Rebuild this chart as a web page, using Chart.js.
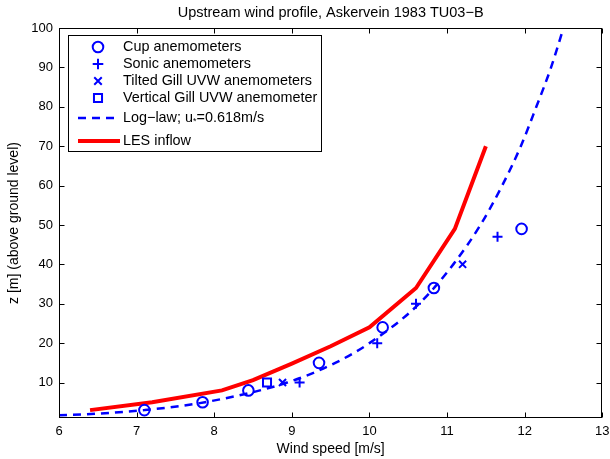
<!DOCTYPE html>
<html>
<head>
<meta charset="utf-8">
<title>Upstream wind profile</title>
<script src="https://cdn.jsdelivr.net/npm/chart.js@4/dist/chart.umd.min.js"></script>
<style>
  html, body { margin: 0; padding: 0; background: #fff; }
  canvas { display: block; }
</style>
</head>
<body>
<canvas id="profile" width="610" height="459"></canvas>
<script>
// Measured profile, Askervein 1983 run TU03-B (speed in m/s, height in m)
const cupSpeed = [7.1, 7.85, 8.44, 9.35, 10.17, 10.83, 11.96];
const cupHeight = [3, 5, 8, 15, 24, 34, 49];
const sonicSpeed = [9.1, 10.1, 10.6, 11.65];
const sonicHeight = [10, 20, 30, 47];
const tiltedSpeed = [8.88, 11.2];
const tiltedHeight = [10, 40];
const verticalSpeed = [8.68];
const verticalHeight = [10];
const logLawSpeed = [6.0, 6.5, 7.1, 7.88, 8.94, 9.56, 10.0, 10.64, 11.08, 11.43, 11.71, 11.95, 12.15, 12.34, 12.5];
const logLawHeight = [1.7, 2.1, 3, 5, 10, 15, 20, 30, 40, 50, 60, 70, 80, 90, 100];
const lesSpeed = [6.4, 7.2, 8.1, 8.5, 9.0, 9.5, 10.0, 10.6, 11.1, 11.5];
const lesHeight = [3, 5, 8, 10.6, 14.8, 19.2, 24, 34, 49, 70];
const xTicks = [6, 7, 8, 9, 10, 11, 12, 13];
const yTicks = [10, 20, 30, 40, 50, 60, 70, 80, 90, 100];

const BLUE = '#0000ff';
const RED = '#ff0000';
const FONT = 'Liberation Sans, Arial, Helvetica, sans-serif';

const pts = (xs, ys) => xs.map((x, i) => ({ x: x, y: ys[i] }));

const legendItems = [
  { type: 'marker', style: 'circle', text: 'Cup anemometers' },
  { type: 'marker', style: 'cross', text: 'Sonic anemometers' },
  { type: 'marker', style: 'crossRot', text: 'Tilted Gill UVW anemometers' },
  { type: 'marker', style: 'rect', text: 'Vertical Gill UVW anemometer' },
  { type: 'dash', text: ['Log\u2212law; u', '*', '=0.618m/s'] },
  { type: 'solid', text: 'LES inflow' }
];
const legendRowY = [47, 64, 81, 98, 118, 141];

// MATLAB-style box: full frame with ticks pointing inward, plus the legend box
const frameAndLegend = {
  id: 'frameAndLegend',
  afterDraw(chart) {
    const { ctx, chartArea: a, scales } = chart;
    ctx.save();
    ctx.strokeStyle = '#000';
    ctx.lineWidth = 1;
    const L = Math.round(a.left) + 0.5, R = Math.round(a.right) - 0.5;
    const T = Math.round(a.top) + 0.5, B = Math.round(a.bottom) - 0.5;
    ctx.strokeRect(L, T, R - L, B - T);
    ctx.beginPath();
    xTicks.forEach(v => {
      const px = Math.round(scales.x.getPixelForValue(v)) + 0.5;
      ctx.moveTo(px, B); ctx.lineTo(px, B - 5);
      ctx.moveTo(px, T); ctx.lineTo(px, T + 5);
    });
    yTicks.forEach(v => {
      const py = Math.round(scales.y.getPixelForValue(v)) + 0.5;
      ctx.moveTo(L, py); ctx.lineTo(L + 5, py);
      ctx.moveTo(R, py); ctx.lineTo(R - 5, py);
    });
    ctx.stroke();

    // legend
    const bx = 68.5, by = 35.5, bw = 253, bh = 116;
    ctx.fillStyle = '#fff';
    ctx.fillRect(bx, by, bw, bh);
    ctx.strokeRect(bx, by, bw, bh);
    const mx = 98, tx = 123;
    ctx.textBaseline = 'middle';
    ctx.textAlign = 'left';
    legendItems.forEach((it, i) => {
      const y = legendRowY[i];
      if (it.type === 'marker') {
        ctx.strokeStyle = BLUE;
        ctx.fillStyle = 'rgba(0,0,0,0)';
        ctx.lineWidth = 2;
        Chart.helpers.drawPoint(ctx, { pointStyle: it.style, radius: it.style === 'rect' ? 5.7 : 5.3, borderWidth: 2, rotation: 0 }, mx, y);
      } else {
        ctx.beginPath();
        ctx.strokeStyle = it.type === 'dash' ? BLUE : RED;
        ctx.lineWidth = it.type === 'dash' ? 2.5 : 4;
        ctx.setLineDash(it.type === 'dash' ? [8, 6] : []);
        ctx.moveTo(78, y); ctx.lineTo(120, y);
        ctx.stroke();
        ctx.setLineDash([]);
      }
      ctx.fillStyle = '#000';
      ctx.font = '14.4px ' + FONT;
      if (Array.isArray(it.text)) {
        let x = tx;
        ctx.fillText(it.text[0], x, y);
        x += ctx.measureText(it.text[0]).width;
        ctx.font = '9px ' + FONT;
        ctx.fillText(it.text[1], x, y + 4);
        x += ctx.measureText(it.text[1]).width;
        ctx.font = '14.4px ' + FONT;
        ctx.fillText(it.text[2], x, y);
      } else {
        ctx.fillText(it.text, tx, y);
      }
    });
    ctx.restore();
  }
};

new Chart(document.getElementById('profile').getContext('2d'), {
  type: 'scatter',
  data: {
    datasets: [
      {
        label: 'LES inflow',
        data: pts(lesSpeed, lesHeight),
        showLine: true, borderColor: RED, borderWidth: 4,
        pointRadius: 0, order: 3
      },
      {
        label: 'Log-law',
        data: pts(logLawSpeed, logLawHeight),
        showLine: true, borderColor: BLUE, borderWidth: 2.5,
        borderDash: [8, 6], pointRadius: 0, order: 2, cubicInterpolationMode: 'monotone', tension: 0.4
      },
      {
        label: 'Cup anemometers',
        data: pts(cupSpeed, cupHeight),
        pointStyle: 'circle', pointRadius: 5.3, borderWidth: 2,
        borderColor: BLUE, backgroundColor: 'rgba(0,0,0,0)', order: 1
      },
      {
        label: 'Sonic anemometers',
        data: pts(sonicSpeed, sonicHeight),
        pointStyle: 'cross', pointRadius: 5, borderWidth: 2,
        borderColor: BLUE, order: 1
      },
      {
        label: 'Tilted Gill UVW anemometers',
        data: pts(tiltedSpeed, tiltedHeight),
        pointStyle: 'crossRot', pointRadius: 5, borderWidth: 2,
        borderColor: BLUE, order: 1
      },
      {
        label: 'Vertical Gill UVW anemometer',
        data: pts(verticalSpeed, verticalHeight),
        pointStyle: 'rect', pointRadius: 5.7, borderWidth: 2,
        borderColor: BLUE, backgroundColor: 'rgba(0,0,0,0)', order: 1
      }
    ]
  },
  options: {
    responsive: false,
    animation: false,
    events: [],
    layout: { padding: { left: 0, right: 7, top: 0, bottom: 0 } },
    plugins: {
      legend: { display: false },
      tooltip: { enabled: false },
      title: {
        display: true,
        fullSize: false,
        text: 'Upstream wind profile, Askervein 1983 TU03\u2212B',
        color: '#000',
        font: { family: FONT, size: 14.5, weight: 'normal', lineHeight: 1.2 },
        padding: { top: 4, bottom: 6.6 }
      }
    },
    scales: {
      x: {
        type: 'linear', min: 6, max: 13,
        afterBuildTicks: s => { s.ticks = xTicks.map(v => ({ value: v })); },
        afterFit: s => { s.height = 41; s.paddingLeft = 0; s.paddingRight = 0; },
        ticks: { color: '#000', font: { family: FONT, size: 13 }, padding: 6, maxRotation: 0 },
        grid: { display: false, drawTicks: false },
        border: { display: false },
        title: {
          display: true, text: 'Wind speed [m/s]', color: '#000',
          font: { family: FONT, size: 14 }, padding: { top: 0, bottom: 1.5 }
        }
      },
      y: {
        type: 'linear', min: 1, max: 100,
        afterBuildTicks: s => { s.ticks = yTicks.map(v => ({ value: v })); },
        afterFit: s => { s.width = 59; s.paddingTop = 0; s.paddingBottom = 0; },
        ticks: { color: '#000', font: { family: FONT, size: 13 }, padding: 6 },
        grid: { display: false, drawTicks: false },
        border: { display: false },
        title: {
          display: true, text: 'z [m] (above ground level)', color: '#000',
          font: { family: FONT, size: 14 }, padding: { top: 6, bottom: 0 }
        }
      }
    }
  },
  plugins: [frameAndLegend]
});
</script>
</body>
</html>
